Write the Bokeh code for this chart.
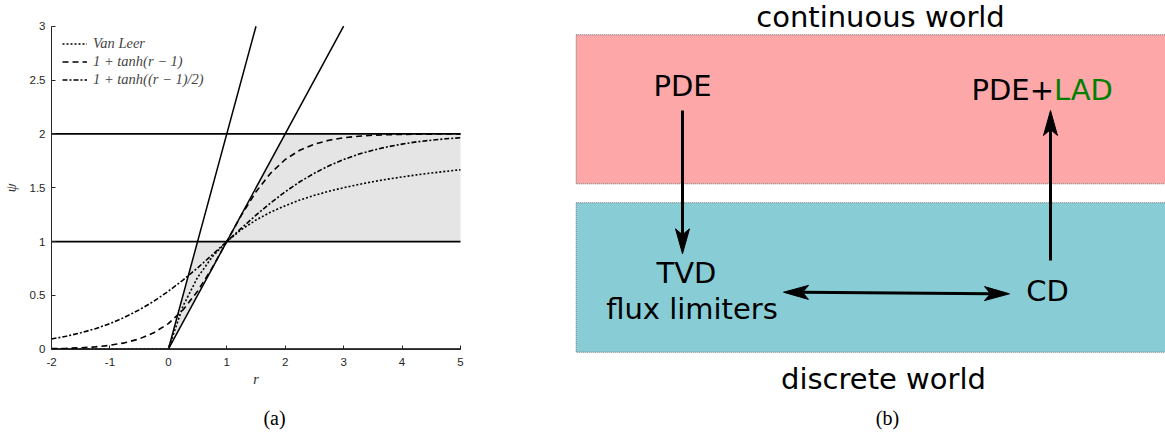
import math
from bokeh.plotting import figure
from bokeh.models import Range1d, FixedTicker, Legend, LegendItem, LinearAxis
from bokeh.embed import file_html
from bokeh.resources import INLINE
from bokeh.core.properties import value

# ---------------- data: panel (a) ----------------
r_vals = [-2.0, -1.75, -1.5, -1.25, -1.0, -0.75, -0.5, -0.25, 0.0, 0.25, 0.5, 0.75,
          1.0, 1.25, 1.5, 1.75, 2.0, 2.25, 2.5, 2.75, 3.0, 3.25, 3.5, 3.75, 4.0,
          4.25, 4.5, 4.75, 5.0]
van_leer = [0, 0, 0, 0, 0, 0, 0, 0, 0, 0.4, 0.667, 0.857,
            1.0, 1.111, 1.2, 1.273, 1.333, 1.385, 1.429, 1.467, 1.5, 1.529, 1.556, 1.579, 1.6,
            1.619, 1.636, 1.652, 1.667]
tanh_r1 = [0.005, 0.008, 0.013, 0.022, 0.036, 0.059, 0.095, 0.152, 0.238, 0.365, 0.538, 0.755,
           1.0, 1.245, 1.462, 1.635, 1.762, 1.848, 1.905, 1.941, 1.964, 1.978, 1.987, 1.992, 1.995,
           1.997, 1.998, 1.999, 1.999]
tanh_half = [0.095, 0.120, 0.152, 0.190, 0.238, 0.296, 0.365, 0.445, 0.538, 0.642, 0.755, 0.876,
             1.0, 1.124, 1.245, 1.358, 1.462, 1.555, 1.635, 1.704, 1.762, 1.810, 1.848, 1.880, 1.905,
             1.926, 1.941, 1.954, 1.964]
legend_labels = ["Van Leer", "1 + tanh(r \u2212 1)", "1 + tanh((r \u2212 1)/2)"]

x_ticks = [-2, -1, 0, 1, 2, 3, 4, 5]
x_tick_labels = ["-2", "-1", "0", "1", "2", "3", "4", "5"]
y_ticks = [0, 0.5, 1, 1.5, 2, 2.5, 3]
y_tick_labels = ["0", "0.5", "1", "1.5", "2", "2.5", "3"]
r_limits = (-2, 5)
psi_limits = (0, 3)

level_psi = [0, 1, 2]                      # horizontal bounds psi = const
slope_r = [[0, 3], [0, 1.5]]               # psi = r and psi = 2r
slope_psi = [[0, 3], [0, 3]]
tvd_r = [0, 0.5, 1, 2, 5, 5, 1]            # second-order TVD region
tvd_psi = [0, 1, 1, 2, 2, 1, 1]

# ---------------- data: panel (b) ----------------
band_left = [575.7, 575.7]
band_right = [1180, 1180]
band_top = [34.3, 202.3]
band_bottom = [183.3, 351.7]
band_colors = ["#FDA7A9", "#88CDD5"]

world_labels = ["continuous world", "discrete world"]
world_x = [880, 883]
world_y = [27, 389]

node_labels = ["PDE", "TVD", "flux limiters", "CD"]
node_x = [682, 686, 691.5, 1047]
node_y = [96, 283, 319, 301]

lad_parts = ["PDE+", "LAD"]
lad_colors = ["black", "#008000"]
lad_x = [971, 1053.4]
lad_y = [100, 100]

arrow_x0 = [682, 1050, 783]
arrow_y0 = [110, 260, 291.7]
arrow_x1 = [682, 1050, 1009]
arrow_y1 = [253.3, 110, 293.3]
arrow_both = [False, False, True]

caption_labels = ["(a)", "(b)"]
caption_x = [274, 887]
caption_y = [428, 428]

# ---------------- canvas (pixel coordinates, y downwards) ----------------
W, H = 1165, 433
text_dy = -11   # renderer places the text baseline this much lower than asked
p = figure(width=W, height=H, x_range=Range1d(0, W), y_range=Range1d(H, 0),
           output_backend="svg", toolbar_location=None,
           x_axis_location=None, y_axis_location=None, min_border=0)
p.grid.visible = False
p.outline_line_color = None

# panel (a) axes box in pixels
ax_l, ax_r, ax_t, ax_b = 51, 460, 25.7, 348.7
kx = (ax_r - ax_l) / (r_limits[1] - r_limits[0])
ky = (ax_b - ax_t) / (psi_limits[1] - psi_limits[0])
p.extra_x_ranges = {"r": Range1d(r_limits[0] - ax_l / kx, r_limits[0] + (W - ax_l) / kx)}
p.extra_y_ranges = {"psi": Range1d(psi_limits[0] - (H - ax_b) / ky, psi_limits[1] + ax_t / ky)}
RA = dict(x_range_name="r", y_range_name="psi")

p.patch(tvd_r, tvd_psi, fill_color="#E5E5E5", line_color=None, **RA)
p.multi_line([list(r_limits) for _ in level_psi], [[v, v] for v in level_psi],
             line_color="black", line_width=1.8, **RA)
p.multi_line(slope_r, slope_psi, line_color="black", line_width=1.5, **RA)

r_vl = p.line(r_vals, van_leer, line_color="black", line_width=1.6, line_dash="2 2", **RA)
r_t1 = p.line(r_vals, tanh_r1, line_color="black", line_width=1.6, line_dash="6 4", **RA)
r_t2 = p.line(r_vals, tanh_half, line_color="black", line_width=1.6, line_dash="5 2 2 2", **RA)

leg_pad, leg_rows, leg_row_h, leg_sp = 4, 3, 17, 1
leg_h = 2 * leg_pad + leg_rows * leg_row_h + (leg_rows - 1) * leg_sp
legend = Legend(items=[LegendItem(label=legend_labels[0], renderers=[r_vl]),
                       LegendItem(label=legend_labels[1], renderers=[r_t1]),
                       LegendItem(label=legend_labels[2], renderers=[r_t2])],
                location=(62 - leg_pad, H - 31 - leg_h), margin=0, padding=leg_pad,
                spacing=leg_sp, glyph_width=25, glyph_height=leg_row_h, label_height=leg_row_h,
                label_standoff=6, label_text_font="Liberation Serif",
                label_text_font_style="italic", label_text_font_size="14.5px",
                border_line_alpha=0, background_fill_alpha=0)
p.add_layout(legend)

xaxis = LinearAxis(fixed_location=0, bounds=r_limits, ticker=FixedTicker(ticks=x_ticks),
                   major_label_overrides=dict(zip(x_ticks, x_tick_labels)),
                   axis_label="r", axis_label_standoff=2, major_label_standoff=9, **RA)
yaxis = LinearAxis(fixed_location=-2, bounds=psi_limits, ticker=FixedTicker(ticks=y_ticks),
                   major_label_overrides=dict(zip(y_ticks, y_tick_labels)),
                   axis_label="\u03c8", axis_label_standoff=8, major_label_standoff=6, **RA)
for ax in (xaxis, yaxis):
    ax.major_tick_in = 4
    ax.major_tick_out = 0
    ax.minor_tick_in = 0
    ax.minor_tick_out = 0
    ax.axis_line_color = "#262626"
    ax.axis_line_width = 1
    ax.major_tick_line_color = "#262626"
    ax.major_label_text_font = "Liberation Sans"
    ax.major_label_text_font_size = "11.5px"
    ax.major_label_text_color = "#262626"
    ax.axis_label_text_font = "Liberation Serif"
    ax.axis_label_text_font_style = "italic"
    ax.axis_label_text_font_size = "14px"
    ax.axis_label_text_color = "#262626"
p.add_layout(xaxis, "below")
p.add_layout(yaxis, "left")

# ---------------- panel (b) ----------------
p.quad(left=band_left, right=band_right, top=band_top, bottom=band_bottom,
       fill_color=band_colors, line_color="#6E6E6E", line_width=1, line_dash="1 1")


def ty(vals):
    return [v + text_dy for v in vals]


font = value("DejaVu Sans")
p.text(world_x, ty(world_y), text=world_labels, text_font=font, text_font_size=value("29px"),
       text_align="center", text_baseline="alphabetic", text_color="black")
p.text(node_x, ty(node_y), text=node_labels, text_font=font, text_font_size=value("29px"),
       text_align="center", text_baseline="alphabetic", text_color="black")
p.text(lad_x, ty(lad_y), text=lad_parts, text_font=font, text_font_size=value("29px"),
       text_align="left", text_baseline="alphabetic", text_color=lad_colors)

head_len, head_w, head_notch = 25, 14, 19
shaft_xs, shaft_ys, head_xs, head_ys = [], [], [], []


def make_head(tx, ty_, fx, fy):
    dx, dy = tx - fx, ty_ - fy
    n = math.hypot(dx, dy)
    ux, uy = dx / n, dy / n
    nx, ny = -uy, ux
    bx, by = tx - head_len * ux, ty_ - head_len * uy
    xs = [tx, bx + head_w / 2 * nx, tx - head_notch * ux, bx - head_w / 2 * nx]
    ys = [ty_, by + head_w / 2 * ny, ty_ - head_notch * uy, by - head_w / 2 * ny]
    return xs, ys, (tx - head_notch * ux, ty_ - head_notch * uy)


for x0, y0, x1, y1, both in zip(arrow_x0, arrow_y0, arrow_x1, arrow_y1, arrow_both):
    hx, hy, end = make_head(x1, y1, x0, y0)
    head_xs.append(hx)
    head_ys.append(hy)
    start = (x0, y0)
    if both:
        hx2, hy2, start = make_head(x0, y0, x1, y1)
        head_xs.append(hx2)
        head_ys.append(hy2)
    shaft_xs.append([start[0], end[0]])
    shaft_ys.append([start[1], end[1]])

p.multi_line(shaft_xs, shaft_ys, line_color="black", line_width=3)
p.patches(head_xs, head_ys, fill_color="black", line_color="black", line_width=1)

# captions
p.text(caption_x, ty(caption_y), text=caption_labels, text_font=value("Liberation Serif"),
       text_font_size=value("20px"), text_align="center", text_baseline="alphabetic",
       text_color="black")

open("out.html", "w").write(file_html(p, INLINE))
